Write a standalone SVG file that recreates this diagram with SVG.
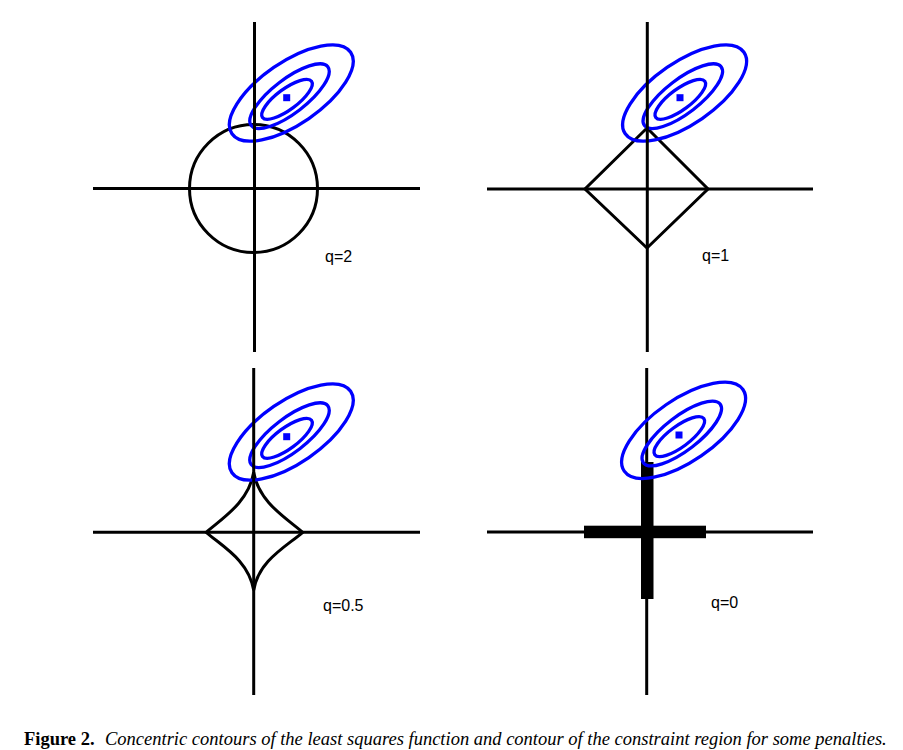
<svg xmlns="http://www.w3.org/2000/svg" xmlns:xlink="http://www.w3.org/1999/xlink" width="903" height="750" viewBox="0 0 903 750">
<style>
.axis{stroke:#000;stroke-width:3;fill:none}
.region{stroke:#000;stroke-width:3;fill:none;stroke-linejoin:miter}
.contour{stroke:#0000ff;stroke-width:3.3;fill:none}
.lbl{font-family:"Liberation Sans",Arial,sans-serif;font-size:16px;fill:#000}
.cap{font-family:"Liberation Serif","Times New Roman",serif;font-size:18.5px;fill:#000}
</style>
<defs>
<g id="contours">
<ellipse class="contour" cx="0" cy="0" rx="72" ry="31" transform="translate(4.6,-4.7) rotate(-34.5)"/>
<ellipse class="contour" cx="0" cy="0" rx="48.3" ry="17" transform="translate(2.8,-1.5) rotate(-37.5)"/>
<ellipse class="contour" cx="0" cy="0" rx="30.5" ry="10.4" transform="translate(0.3,1.6) rotate(-36.5)"/>
<rect x="-3.5" y="-3.5" width="7" height="7" fill="#0000ff"/>
</g>
</defs>
<rect width="903" height="750" fill="#fff"/>

<g id="panel-q2">
<circle class="region" cx="253.5" cy="188.5" r="64"/>
<use xlink:href="#contours" transform="translate(286.7,97.7)"/>
<line class="axis" x1="254.5" y1="22" x2="254.5" y2="352"/>
<line class="axis" x1="93" y1="188.5" x2="420" y2="188.5"/>
<text class="lbl" x="325" y="262">q=2</text>
</g>

<g id="panel-q1">
<path class="region" d="M647,128 L708,189 L647,248 L585,189 Z"/>
<use xlink:href="#contours" transform="translate(680,97.7)"/>
<line class="axis" x1="647.3" y1="22" x2="647.3" y2="352"/>
<line class="axis" x1="487" y1="189" x2="813" y2="189"/>
<text class="lbl" x="702" y="261">q=1</text>
</g>

<g id="panel-q05">
<path class="region" d="M206.2,532.3 C222.2,546.3 248.7,560.3 253.7,590.3 C258.7,560.3 286.7,546.3 302.7,532.3 C286.7,518.3 258.7,502.3 253.7,472.3 C248.7,502.3 222.2,518.3 206.2,532.3 Z"/>
<use xlink:href="#contours" transform="translate(286.7,436.7)"/>
<line class="axis" x1="253.7" y1="368" x2="253.7" y2="695"/>
<line class="axis" x1="93" y1="532.3" x2="420" y2="532.3"/>
<text class="lbl" x="323" y="611">q=0.5</text>
</g>

<g id="panel-q0">
<line class="axis" x1="646.7" y1="368" x2="646.7" y2="695"/>
<line class="axis" x1="487" y1="532" x2="813" y2="532"/>
<rect x="641" y="462" width="12.5" height="137" fill="#000"/>
<rect x="584" y="525.7" width="122" height="12.5" fill="#000"/>
<use xlink:href="#contours" transform="translate(679,435)"/>
<text class="lbl" x="711" y="608">q=0</text>
</g>

<g id="caption">
<text class="cap" x="24" y="745" font-weight="bold">Figure 2.</text>
<text class="cap" x="105" y="745" font-style="italic">Concentric contours of the least squares function and contour of the constraint region for some penalties.</text>
</g>
</svg>
